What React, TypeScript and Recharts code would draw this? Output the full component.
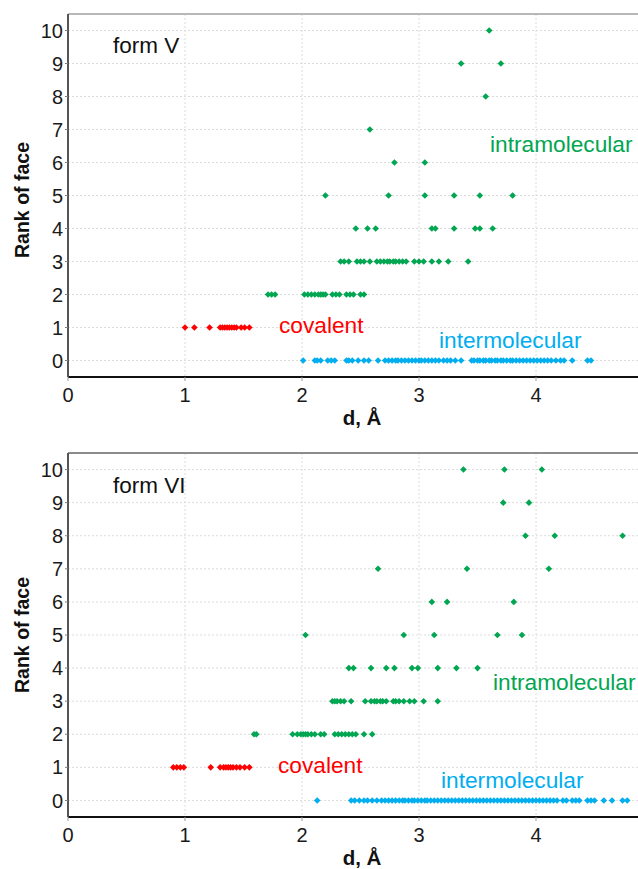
import React from 'react';
import { ScatterChart, Scatter, XAxis, YAxis, CartesianGrid, ReferenceLine } from 'recharts';

// ---------- form V (top panel) : distances d (Å) per rank of face ----------
const vIntra10 = [3.6];
const vIntra9 = [3.36, 3.7];
const vIntra8 = [3.57];
const vIntra7 = [2.58];
const vIntra6 = [2.79, 3.05];
const vIntra5 = [2.2, 2.74, 3.05, 3.3, 3.52, 3.8];
const vIntra4 = [2.46, 2.56, 2.63, 3.11, 3.14, 3.3, 3.48, 3.52, 3.63];
const vIntra3 = [2.33, 2.36, 2.4, 2.47, 2.5, 2.53, 2.58, 2.64, 2.67, 2.7, 2.73, 2.75, 2.78, 2.8, 2.83, 2.86, 2.89, 2.96, 3.0, 3.04, 3.11, 3.17, 3.25, 3.42];
const vIntra2 = [1.71, 1.74, 1.77, 2.02, 2.05, 2.08, 2.11, 2.14, 2.16, 2.18, 2.2, 2.26, 2.29, 2.32, 2.38, 2.41, 2.44, 2.5, 2.53];
const vCovalent1 = [1.0, 1.08, 1.21, 1.3, 1.32, 1.34, 1.36, 1.38, 1.4, 1.42, 1.44, 1.48, 1.51, 1.55];
const vInter0 = [2.01, 2.11, 2.13, 2.16, 2.22, 2.25, 2.28, 2.38, 2.4, 2.43, 2.48, 2.53, 2.57, 2.65, 2.71, 2.74, 2.77, 2.8, 2.82, 2.85, 2.88, 2.91, 2.94, 2.97, 3.0, 3.02, 3.05, 3.08, 3.11, 3.14, 3.17, 3.21, 3.24, 3.27, 3.31, 3.36, 3.45, 3.47, 3.5, 3.52, 3.55, 3.57, 3.6, 3.62, 3.65, 3.67, 3.7, 3.72, 3.75, 3.78, 3.8, 3.83, 3.86, 3.89, 3.92, 3.95, 3.98, 4.01, 4.04, 4.07, 4.1, 4.13, 4.17, 4.21, 4.24, 4.31, 4.44, 4.47];

// ---------- form VI (bottom panel) ----------
const wIntra10 = [3.38, 3.73, 4.05];
const wIntra9 = [3.72, 3.94];
const wIntra8 = [3.91, 4.16, 4.74];
const wIntra7 = [2.65, 3.41, 4.11];
const wIntra6 = [3.11, 3.24, 3.81];
const wIntra5 = [2.03, 2.87, 3.13, 3.67, 3.88];
const wIntra4 = [2.4, 2.44, 2.59, 2.72, 2.79, 2.94, 2.99, 3.16, 3.32, 3.5];
const wIntra3 = [2.26, 2.28, 2.3, 2.33, 2.36, 2.42, 2.54, 2.59, 2.62, 2.64, 2.67, 2.69, 2.72, 2.78, 2.8, 2.83, 2.87, 2.92, 2.96, 3.04, 3.16];
const wIntra2 = [1.59, 1.61, 1.92, 1.96, 1.99, 2.01, 2.03, 2.05, 2.08, 2.11, 2.16, 2.19, 2.28, 2.31, 2.34, 2.37, 2.4, 2.43, 2.46, 2.53, 2.6];
const wCovalent1 = [0.9, 0.93, 0.96, 0.99, 1.22, 1.3, 1.33, 1.35, 1.37, 1.39, 1.41, 1.44, 1.47, 1.51, 1.55];
const wInter0 = [2.13, 2.42, 2.45, 2.49, 2.53, 2.56, 2.6, 2.64, 2.68, 2.71, 2.74, 2.77, 2.8, 2.83, 2.86, 2.88, 2.91, 2.94, 2.96, 2.99, 3.02, 3.05, 3.07, 3.1, 3.13, 3.16, 3.19, 3.22, 3.25, 3.28, 3.31, 3.34, 3.37, 3.4, 3.43, 3.46, 3.49, 3.52, 3.55, 3.58, 3.61, 3.64, 3.67, 3.7, 3.73, 3.76, 3.79, 3.82, 3.85, 3.88, 3.91, 3.94, 3.97, 4.0, 4.03, 4.06, 4.09, 4.12, 4.15, 4.18, 4.23, 4.26, 4.31, 4.34, 4.37, 4.44, 4.47, 4.5, 4.58, 4.65, 4.74, 4.78];

const xTicks = [0, 1, 2, 3, 4];
const yTicks = [0, 1, 2, 3, 4, 5, 6, 7, 8, 9, 10];

const GREEN = '#00a651';
const BLUE = '#00aeef';
const RED = '#ff0000';
const FONT = '"Liberation Sans", Arial, Helvetica, sans-serif';

const toPts = (ds: number[], rank: number) => ds.map((d) => ({ x: d, y: rank }));

const Diamond = (props: any) => {
  const { cx, cy, fill } = props;
  if (cx == null || cy == null) return null;
  const s = 3.3;
  return <path d={`M${cx},${cy - s}L${cx + s},${cy}L${cx},${cy + s}L${cx - s},${cy}Z`} fill={fill} />;
};

type PanelProps = {
  top: number;
  height: number;
  marginBottom: number;
  topBorder: string;
  intra: number[][];
  intraRanks: number[];
  covalent: number[];
  inter: number[];
  title: string;
  labels: { title: [number, number]; intra: [number, number]; cov: [number, number]; inter: [number, number]; xl: [number, number]; yl: [number, number] };
};

const Panel = (p: PanelProps) => {
  const intraPts = p.intra.flatMap((arr, i) => toPts(arr, p.intraRanks[i]));
  return (
    <div style={{ position: 'absolute', left: 0, top: p.top, width: 638, height: p.height, overflow: 'hidden' }}>
      <ScatterChart
        width={660}
        height={p.height}
        margin={{ top: 14, right: 7, bottom: p.marginBottom, left: 0 }}
        style={{ fontFamily: FONT }}
      >
        <CartesianGrid stroke="#dcdcdc" strokeDasharray="2 2" />
        <XAxis
          type="number"
          dataKey="x"
          domain={[0, 5]}
          ticks={xTicks}
          allowDataOverflow
          height={30}
          tickSize={4}
          tickMargin={7}
          tick={{ fontSize: 20, fill: '#1a1a1a', fontFamily: FONT }}
          axisLine={{ stroke: '#111', strokeWidth: 2 }}
          tickLine={{ stroke: '#999' }}
        />
        <YAxis
          type="number"
          dataKey="y"
          domain={[-0.5, 10.5]}
          ticks={yTicks}
          interval={0}
          width={68}
          tickSize={3}
          tickMargin={2}
          tick={{ fontSize: 20, fill: '#1a1a1a', fontFamily: FONT }}
          axisLine={{ stroke: '#555', strokeWidth: 2 }}
          tickLine={{ stroke: '#8a7a8a' }}
        />
        <ReferenceLine y={10.5} stroke={p.topBorder} strokeWidth={2} />
        <Scatter data={toPts(p.inter, 0)} fill={BLUE} shape={Diamond} isAnimationActive={false} />
        <Scatter data={toPts(p.covalent, 1)} fill={RED} shape={Diamond} isAnimationActive={false} />
        <Scatter data={intraPts} fill={GREEN} shape={Diamond} isAnimationActive={false} />
      </ScatterChart>
      <svg
        width={638}
        height={p.height}
        style={{ position: 'absolute', left: 0, top: 0, pointerEvents: 'none', fontFamily: FONT }}
      >
        <text x={p.labels.title[0]} y={p.labels.title[1]} fontSize={22.5} fill="#111">{p.title}</text>
        <text x={p.labels.intra[0]} y={p.labels.intra[1]} fontSize={22.7} fill={GREEN}>intramolecular</text>
        <text x={p.labels.cov[0]} y={p.labels.cov[1]} fontSize={22.7} fill={RED}>covalent</text>
        <text x={p.labels.inter[0]} y={p.labels.inter[1]} fontSize={22.7} fill={BLUE}>intermolecular</text>
        <text x={p.labels.xl[0]} y={p.labels.xl[1]} fontSize={20.5} fontWeight="bold" fill="#111" textAnchor="middle">d, Å</text>
        <text
          transform={`translate(${p.labels.yl[0]},${p.labels.yl[1]}) rotate(-90)`}
          fontSize={19.5}
          fontWeight="bold"
          fill="#111"
          textAnchor="middle"
        >
          Rank of face
        </text>
      </svg>
    </div>
  );
};

export default function App() {
  return (
    <div style={{ position: 'absolute', left: 0, top: 0, width: 638, height: 869, overflow: 'hidden', background: '#fff' }}>
      <Panel
        top={0}
        height={440}
        marginBottom={33}
        topBorder="#b8b8b8"
        intra={[vIntra2, vIntra3, vIntra4, vIntra5, vIntra6, vIntra7, vIntra8, vIntra9, vIntra10]}
        intraRanks={[2, 3, 4, 5, 6, 7, 8, 9, 10]}
        covalent={vCovalent1}
        inter={vInter0}
        title="form V"
        labels={{ title: [113, 53], intra: [490, 152], cov: [279, 333], inter: [439, 348], xl: [362, 425], yl: [29, 200] }}
      />
      <Panel
        top={439}
        height={430}
        marginBottom={22}
        topBorder="#8c8c8c"
        intra={[wIntra2, wIntra3, wIntra4, wIntra5, wIntra6, wIntra7, wIntra8, wIntra9, wIntra10]}
        intraRanks={[2, 3, 4, 5, 6, 7, 8, 9, 10]}
        covalent={wCovalent1}
        inter={wInter0}
        title="form VI"
        labels={{ title: [113, 54], intra: [493, 251], cov: [278, 334], inter: [441, 349], xl: [362, 426], yl: [29, 196] }}
      />
    </div>
  );
}
